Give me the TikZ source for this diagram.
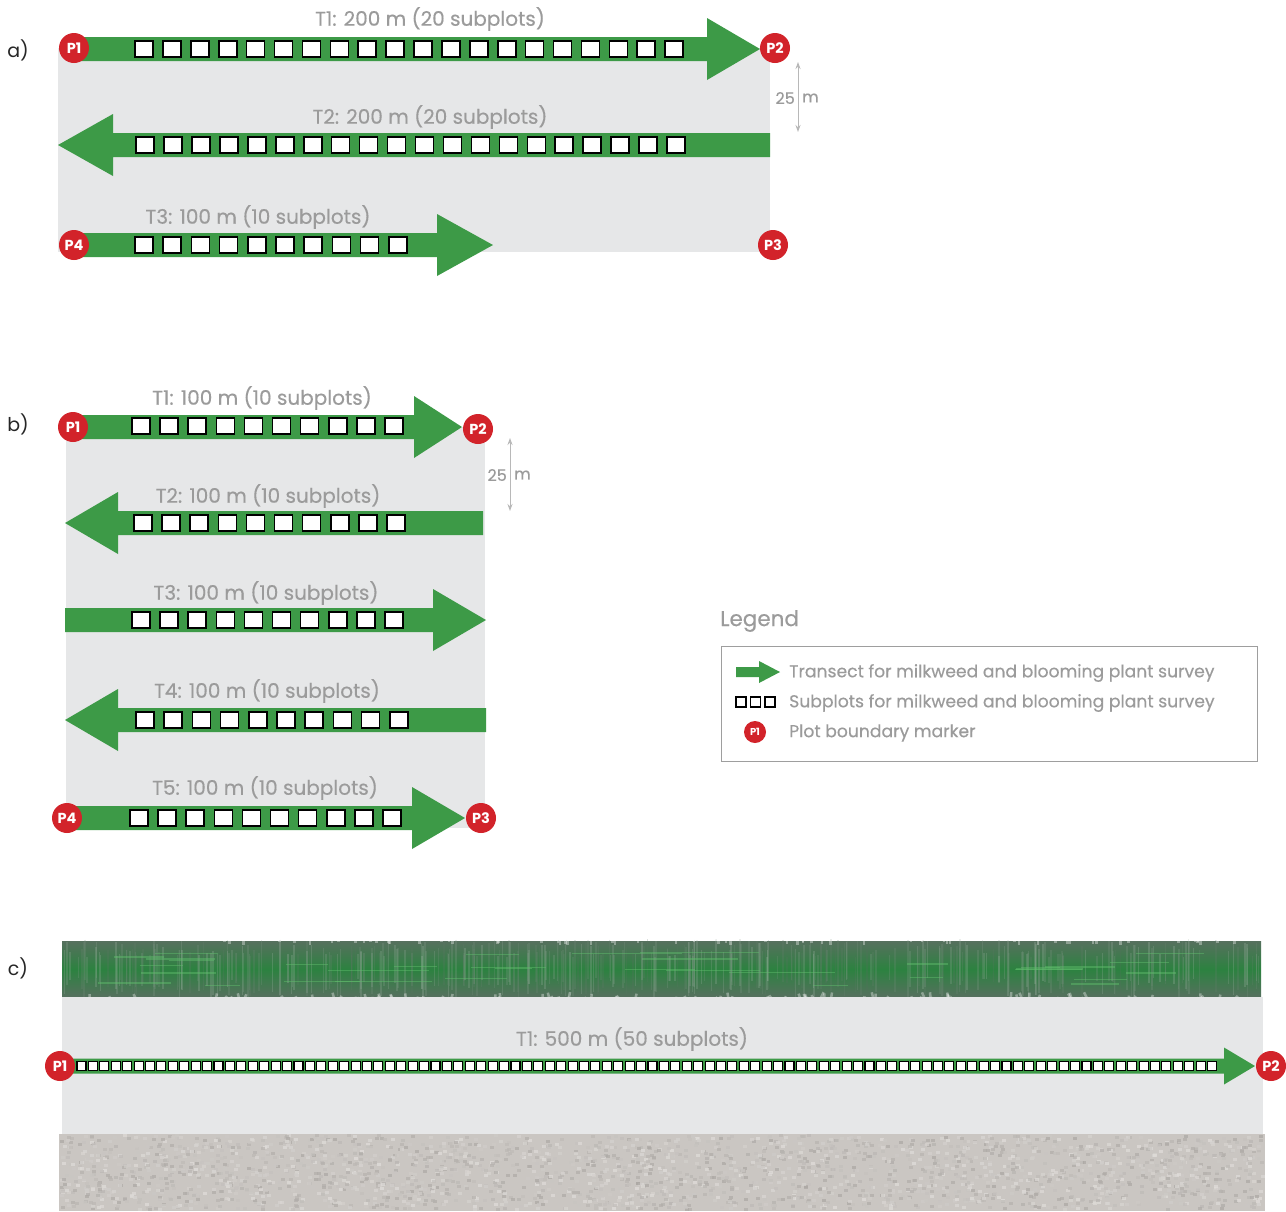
\documentclass[tikz,border=0pt]{standalone}
\usepackage{fontspec}
\setmainfont{Poppins}
\newfontfamily\medfont{Poppins}[FakeBold=0.35]
\usetikzlibrary{arrows.meta}
\definecolor{agreen}{HTML}{3D9A47}
\definecolor{pred}{HTML}{D2232A}
\definecolor{plotgray}{HTML}{E6E7E8}
\definecolor{lblgray}{HTML}{9B9B9B}
\definecolor{dimgray}{HTML}{B8B8B8}
\definecolor{hedgeedge}{HTML}{56705E}
\definecolor{hedgemid}{HTML}{2C8240}
\definecolor{hedgelight}{HTML}{62C06E}
\definecolor{hedgestreak}{HTML}{B9C6BC}
\definecolor{gravelbase}{HTML}{CAC6C2}
\definecolor{gravdark}{HTML}{ABA7A3}
\definecolor{gravlight}{HTML}{E2DFDC}
\newcommand{\grarrow}[6]{% xstart, xtip, yc, shafthalf, xheadbase, headhalf
  \fill[agreen] (#1,#3-#4) -- (#5,#3-#4) -- (#5,#3-#6) -- (#2,#3) -- (#5,#3+#6) -- (#5,#3+#4) -- (#1,#3+#4) -- cycle;}
\newcommand{\subplotrow}[7]{% n, x0, pitch, yc, w, h, linewidth
  \foreach \i in {1,...,#1} {\draw[fill=white,draw=black,line width=#7] ({#2+(\i-1)*#3},{#4-#6/2}) rectangle ++(#5,#6);}}
\tikzset{
  marker/.style={circle,fill=pred,text=white,font=\bfseries\fontsize{14.5}{14.5}\selectfont,minimum size=30,inner sep=0},
  smallmarker/.style={circle,fill=pred,text=white,font=\bfseries\fontsize{10}{10}\selectfont,minimum size=22,inner sep=0},
  tlabel/.style={text=lblgray,font=\medfont\fontsize{20}{20}\selectfont,inner sep=0},
  partlabel/.style={text=black!85,font=\fontsize{19}{19}\selectfont,inner sep=0},
  legtext/.style={text=lblgray,font=\medfont\fontsize{17.2}{17.2}\selectfont,inner sep=0,anchor=west},
  dimline/.style={draw=dimgray,line width=0.9,{Stealth[length=7,width=5]}-{Stealth[length=7,width=5]}},
  dimtext/.style={text=lblgray,font=\medfont\fontsize{16}{16}\selectfont,inner sep=0}
}
\begin{document}
\begin{tikzpicture}[x=1pt,y=-1pt]
\useasboundingbox (0,0) rectangle (1286,1211);
\fill[white] (0,0) rectangle (1286,1211);
%% ---------------- a)
\node[partlabel] (pa) at (18,50) {a)};
\fill[plotgray] (58,48) rectangle (770,252);
\grarrow{74}{760}{49}{12}{707}{31}
\grarrow{770}{58}{145}{12}{113}{31}
\grarrow{74}{493}{245}{12}{437}{31}
\subplotrow{20}{135}{27.9}{49}{18}{16}{1.6}
\subplotrow{20}{136}{27.95}{145}{18}{16}{1.6}
\subplotrow{10}{135}{28.2}{245}{18}{16}{1.6}
\node[marker] (a1) at (74,48) {P1};
\node[marker] (a2) at (775,48) {P2};
\node[marker] (a3) at (773,245) {P3};
\node[marker] (a4) at (74,245) {P4};
\node[tlabel] (lat1) at (430,19) {T1: 200 m (20 subplots)};
\node[tlabel] (lat2) at (430,117) {T2: 200 m (20 subplots)};
\node[tlabel] (lat3) at (258,217) {T3: 100 m (10 subplots)};
\coordinate (ad1) at (798,62);
\coordinate (ad2) at (798,132);
\draw[dimline] (ad1) -- (ad2);
\node[dimtext,anchor=east] (ad25) at (795,98) {25};
\node[dimtext,anchor=west] (adm) at (802,98) {m};
%% ---------------- b)
\node[partlabel] (pb) at (18,424) {b)};
\fill[plotgray] (66,427) rectangle (485,828);
\grarrow{73}{462}{427}{12}{414}{31}
\grarrow{483}{65}{523}{12}{118}{31}
\grarrow{65}{486}{620}{12}{433}{31}
\grarrow{486}{65}{720}{12}{118}{31}
\grarrow{67}{465}{818}{12}{412}{31}
\subplotrow{10}{132}{28.1}{426}{18}{16}{1.6}
\subplotrow{10}{134}{28.1}{523}{18}{16}{1.6}
\subplotrow{10}{132}{28.1}{620}{18}{16}{1.6}
\subplotrow{10}{136}{28.2}{720}{18}{16}{1.6}
\subplotrow{10}{130}{28.1}{818}{18}{16}{1.6}
\node[marker] (b1) at (73,427) {P1};
\node[marker] (b2) at (478,429) {P2};
\node[marker] (b3) at (481,818) {P3};
\node[marker] (b4) at (67,818) {P4};
\node[tlabel] (lbt1) at (262,398) {T1: 100 m (10 subplots)};
\node[tlabel] (lbt2) at (268,496) {T2: 100 m (10 subplots)};
\node[tlabel] (lbt3) at (266,593) {T3: 100 m (10 subplots)};
\node[tlabel] (lbt4) at (267,691) {T4: 100 m (10 subplots)};
\node[tlabel] (lbt5) at (265,788) {T5: 100 m (10 subplots)};
\coordinate (bd1) at (510,438);
\coordinate (bd2) at (510,511);
\draw[dimline] (bd1) -- (bd2);
\node[dimtext,anchor=east] (bd25) at (507,475) {25};
\node[dimtext,anchor=west] (bdm) at (514,475) {m};
%% ---------------- legend
\node[text=lblgray,font=\medfont\fontsize{21.5}{21.5}\selectfont,inner sep=0,anchor=west] (leg) at (720,621) {Legend};
\draw[draw=black!38,line width=1] (721,646) rectangle (1257,761);
\grarrow{736}{780}{672}{5}{759}{11}
\subplotrow{3}{736}{14.5}{702}{10}{10}{1.1}
\node[smallmarker] (lp1) at (755,732) {P1};
\node[legtext] (lt1) at (789,673) {Transect for milkweed and blooming plant survey};
\node[legtext] (lt2) at (789,703) {Subplots for milkweed and blooming plant survey};
\node[legtext] (lt3) at (789,733) {Plot boundary marker};
%% ---------------- c)
\node[partlabel] (pc) at (18,968) {c)};
% hedge
\shade[top color=hedgeedge,bottom color=hedgeedge,middle color=hedgemid] (62,941) rectangle (1261,997);
\pgfmathsetseed{7}
\foreach \k in {1,...,380}{
  \pgfmathsetmacro\xx{62+rnd*1199}
  \pgfmathsetmacro\ya{939+rnd*18}
  \pgfmathsetmacro\yb{978+rnd*20}
  \pgfmathsetmacro\cc{rnd*100}
  \draw[line width=1.6,color=hedgestreak!\cc!hedgeedge,opacity=0.22] (\xx,\ya) -- (\xx,\yb);
}
\foreach \k in {1,...,120}{
  \pgfmathsetmacro\xx{62+rnd*1195}
  \draw[line width=2.5,color=white,opacity=0.35] (\xx,939) -- (\xx,939+rnd*6);
  \draw[line width=2.5,color=white,opacity=0.35] (\xx+rnd*4,999) -- (\xx+rnd*4,999-rnd*7);
}
\foreach \k in {1,...,35}{
  \pgfmathsetmacro\xx{70+rnd*1120}
  \pgfmathsetmacro\yy{952+rnd*34}
  \pgfmathsetmacro\ll{30+rnd*90}
  \draw[line width=1.2,color=hedgelight,opacity=0.45] (\xx,\yy) -- ++(\ll,0);
}
% plot
\fill[plotgray] (62,997) rectangle (1263,1134);
% gravel
\fill[gravelbase] (59,1134) rectangle (1265,1211);
\foreach \k in {1,...,2600}{
  \pgfmathsetmacro\xx{59+rnd*1202}
  \pgfmathsetmacro\yy{1134+rnd*74}
  \pgfmathsetmacro\cc{rnd*100}
  \fill[color=gravdark!\cc!gravlight,opacity=0.7] (\xx,\yy) rectangle ++(4,3);
}
\grarrow{60}{1255}{1066}{7.5}{1224}{18.5}
\subplotrow{100}{77}{11.42}{1066}{9}{9}{1.1}
\node[marker] (c1) at (60,1066) {P1};
\node[marker] (c2) at (1271,1066) {P2};
\node[tlabel] (lct1) at (632,1039) {T1: 500 m (50 subplots)};
\end{tikzpicture}
\end{document}
